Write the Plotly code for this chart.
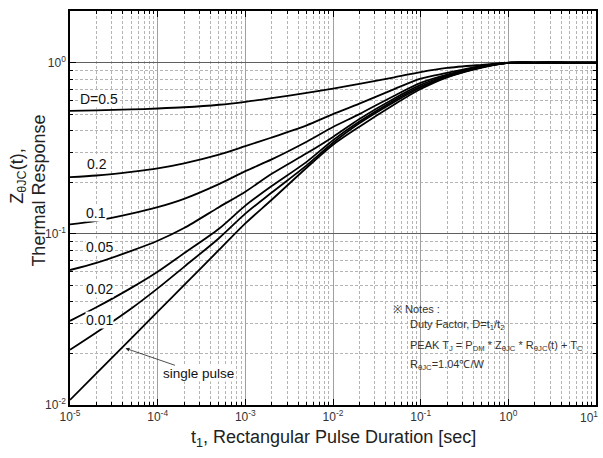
import plotly.graph_objects as go

# ---- data ----
t_sec = [1e-5, 2e-5, 5e-5, 1e-4, 2e-4, 5e-4, 1e-3, 2e-3, 5e-3, 1e-2, 2e-2, 5e-2,
         0.1, 0.2, 0.5, 1, 2, 5, 10]

z_d05 = [0.522, 0.526, 0.532, 0.539, 0.548, 0.567, 0.59, 0.62, 0.665, 0.705, 0.75, 0.82,
         0.88, 0.93, 0.97, 0.997, 1.0, 1.0, 1.0]
z_d02 = [0.214, 0.219, 0.230, 0.241, 0.258, 0.290, 0.325, 0.365, 0.43, 0.50, 0.575, 0.70,
         0.806, 0.87, 0.955, 0.996, 1.0, 1.0, 1.0]
z_d01 = [0.1135, 0.119, 0.131, 0.143, 0.160, 0.195, 0.232, 0.272, 0.345, 0.42, 0.50, 0.64,
         0.76, 0.85, 0.95, 0.996, 1.0, 1.0, 1.0]
z_d005 = [0.0614, 0.0676, 0.0794, 0.091, 0.108, 0.143, 0.176, 0.224, 0.295, 0.368, 0.468, 0.617,
          0.74, 0.84, 0.945, 0.996, 1.0, 1.0, 1.0]
z_d002 = [0.031, 0.0372, 0.0483, 0.060, 0.0769, 0.107, 0.146, 0.19, 0.263, 0.352, 0.452, 0.603,
          0.725, 0.83, 0.94, 0.996, 1.0, 1.0, 1.0]
z_d001 = [0.021, 0.0265, 0.0366, 0.048, 0.0641, 0.0942, 0.131, 0.174, 0.251, 0.34, 0.442, 0.589,
          0.715, 0.825, 0.94, 0.996, 1.0, 1.0, 1.0]
z_single = [0.0107, 0.0153, 0.0245, 0.0351, 0.0501, 0.0804, 0.115, 0.158, 0.243, 0.331, 0.422, 0.569,
            0.70, 0.82, 0.935, 0.995, 1.0, 1.0, 1.0]

series = [z_d05, z_d02, z_d01, z_d005, z_d002, z_d001, z_single]
series_names = ["D=0.5", "0.2", "0.1", "0.05", "0.02", "0.01", "single pulse"]

x_tickvals = [1e-5, 1e-4, 1e-3, 1e-2, 1e-1, 1e0, 1e1]
x_ticktext = ["10<sup>-5</sup>", "10<sup>-4</sup>", "10<sup>-3</sup>", "10<sup>-2</sup>",
              "10<sup>-1</sup>", "10<sup>0</sup>", "10<sup>1</sup>"]
y_tickvals = [1e-2, 1e-1, 1e0]
y_ticktext = ["10<sup>-2</sup>", "10<sup>-1</sup>", "10<sup>0</sup>"]

notes_lines = [
    "※ Notes :",
    "Duty Factor, D=t<sub>1</sub>/t<sub>2</sub>",
    "PEAK T<sub>J</sub> = P<sub>DM</sub> * Z<sub>θJC</sub> * R<sub>θJC</sub>(t) + T<sub>C</sub>",
    "R<sub>θJC</sub>=1.04℃/W",
]

FONT = "Liberation Sans, Arial, sans-serif"
TICKFONT = dict(family=FONT, size=12, color="#333")

fig = go.Figure()
for name, z in zip(series_names, series):
    fig.add_trace(go.Scatter(x=t_sec, y=z, mode="lines", name=name,
                             line=dict(color="black", width=1.8, shape="spline", smoothing=0.8),
                             showlegend=False, hoverinfo="skip"))

minor_x = [m * 10 ** e for e in range(-5, 1) for m in range(2, 10)]
minor_y = [m * 10 ** e for e in range(-2, 1) for m in range(2, 10) if m * 10 ** e < 2.0]

# last x label (at the very right page edge) is drawn as an annotation so it stays inside the page
fig.update_xaxes(type="log", range=[-5, 1], tickvals=x_tickvals, ticktext=x_ticktext[:-1] + [""],
                 showgrid=True, gridcolor="#a0a0a0", gridwidth=1.3,
                 showline=True, linecolor="black", linewidth=1.5, mirror="allticks",
                 ticks="inside", ticklen=6, tickcolor="black", zeroline=False,
                 tickfont=TICKFONT,
                 minor=dict(tickvals=minor_x, ticks="inside", ticklen=3, tickcolor="black",
                            showgrid=True, gridcolor="#b4b4b4", griddash="3px,2px", gridwidth=1))
fig.update_yaxes(type="log", range=[-2, 0.301], tickvals=y_tickvals, ticktext=y_ticktext,
                 showgrid=True, gridcolor="#606060", gridwidth=1,
                 showline=True, linecolor="black", linewidth=1.5, mirror="allticks",
                 ticks="inside", ticklen=6, tickcolor="black", zeroline=False,
                 tickfont=TICKFONT,
                 minor=dict(tickvals=minor_y, ticks="inside", ticklen=3, tickcolor="black",
                            showgrid=True, gridcolor="#b4b4b4", griddash="3px,2px", gridwidth=1))

W, H = 603, 458
PL, PR, PT, PB = 70, 598, 11, 405          # plot area in page pixels
L, R, T, B = PL, W - PR, PT, H - PB
PW, PH = PR - PL, PB - PT


def px(xp):
    return (xp - PL) / PW


def py(yp):
    return (PB - yp) / PH


# white box behind notes
fig.add_shape(type="rect", xref="paper", yref="paper", x0=px(377), x1=px(597), y0=py(381), y1=py(290),
              fillcolor="white", line=dict(width=0), layer="between")

anns = []
label_pos = [(99, 99), (97.5, 164), (96, 212.5), (99.7, 246.7), (99.7, 288.7), (99.7, 319.7)]
for name, (xp, yp) in zip(series_names[:6], label_pos):
    anns.append(dict(text=name, xref="paper", yref="paper", x=px(xp), y=py(yp),
                     showarrow=False, font=dict(family=FONT, size=14, color="#111"),
                     bgcolor="white", borderpad=0, xanchor="center", yanchor="middle"))
anns.append(dict(text=series_names[6], xref="paper", yref="paper", x=px(125.7), y=py(348.3),
                 axref="pixel", ayref="pixel", ax=72.8, ay=25, showarrow=True,
                 arrowhead=2, arrowsize=1, arrowwidth=0.8, arrowcolor="#222",
                 font=dict(family=FONT, size=13.5, color="#111"), bgcolor="white", borderpad=0))

note_pos = [(392, 308.7), (409, 325), (409, 345.7), (409, 365)]
for txt, (xp, yp) in zip(notes_lines, note_pos):
    anns.append(dict(text=txt, xref="paper", yref="paper", x=px(xp), y=py(yp),
                     showarrow=False, xanchor="left", yanchor="middle",
                     font=dict(family=FONT, size=11, color="#333")))

anns.append(dict(text=x_ticktext[-1], xref="paper", yref="paper", x=px(602), y=py(407),
                 showarrow=False, xanchor="right", yanchor="top", font=TICKFONT))

anns.append(dict(text="t<sub>1</sub>, Rectangular Pulse Duration [sec]", xref="paper", yref="paper",
                 x=px(334), y=py(439), showarrow=False, xanchor="center", yanchor="middle",
                 font=dict(family=FONT, size=18, color="#222")))
anns.append(dict(text="Z<sub>θJC</sub>(t),", xref="paper", yref="paper", x=px(18), y=py(176.5),
                 showarrow=False, textangle=-90, xanchor="center", yanchor="middle",
                 font=dict(family=FONT, size=18, color="#222")))
anns.append(dict(text="Thermal Response", xref="paper", yref="paper", x=px(38), y=py(190.5),
                 showarrow=False, textangle=-90, xanchor="center", yanchor="middle",
                 font=dict(family=FONT, size=18, color="#222")))

fig.update_layout(width=W, height=H, autosize=False,
                  margin=dict(l=L, r=R, t=T, b=B, pad=0),
                  paper_bgcolor="white", plot_bgcolor="white",
                  annotations=anns, font=dict(family=FONT))

fig.write_html("out.html", config={"displayModeBar": False},
               post_script="document.body.style.margin='0px';document.body.style.overflow='hidden';")
